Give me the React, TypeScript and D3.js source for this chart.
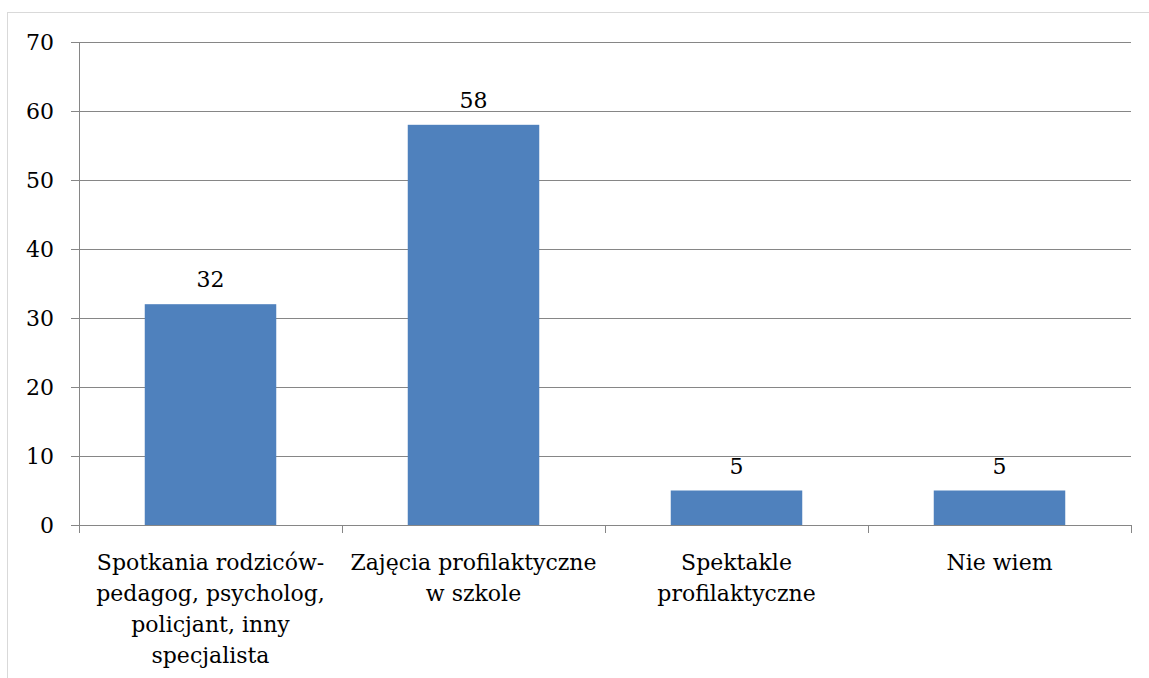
import React from "react";
import * as d3 from "d3";

const categoryLines: string[][] = [
  ["Spotkania rodziców-", "pedagog, psycholog,", "policjant, inny", "specjalista"],
  ["Zajęcia profilaktyczne", "w szkole"],
  ["Spektakle", "profilaktyczne"],
  ["Nie wiem"],
];
const categories: string[] = categoryLines.map((l) => l.join(" "));
const values: number[] = [32, 58, 5, 5];
const yTicks: number[] = [0, 10, 20, 30, 40, 50, 60, 70];

const W = 1149;
const H = 678;
const left = 79;
const right = 1131;
const top = 42;
const bottom = 525;
const FONT = "DejaVu Serif";
const FS = 22;
const AXIS = "#868686";
const BAR = "#4f81bd";

export default function App() {
  const x = d3.scaleBand<string>().domain(categories).range([left, right]).padding(0);
  const y = d3.scaleLinear().domain([0, 70]).range([bottom, top]);
  const bw = x.bandwidth() * 0.5;
  const boundaries = d3.range(categories.length + 1).map((i) => left + i * x.step());

  return (
    <svg
      width={W}
      height={H}
      style={{ position: "absolute", left: 0, top: 0, background: "#fff" }}
    >
      <rect x={7.5} y={12.5} width={W + 20} height={H + 20} fill="#fff" stroke="#d9d9d9" strokeWidth={1} />
      {yTicks.map((t) => (
        <g key={t}>
          <line x1={71} x2={right} y1={Math.round(y(t)) + 0.5} y2={Math.round(y(t)) + 0.5} stroke={AXIS} strokeWidth={1} />
          <text
            x={54}
            y={y(t)}
            dy="0.36em"
            textAnchor="end"
            fontFamily={FONT}
            fontSize={FS}
            fill="#000"
          >
            {t}
          </text>
        </g>
      ))}
      <line x1={left + 0.5} x2={left + 0.5} y1={top} y2={bottom + 8} stroke={AXIS} strokeWidth={1} />
      {boundaries.map((b, i) => (
        <line key={i} x1={Math.round(b) + 0.5} x2={Math.round(b) + 0.5} y1={bottom} y2={bottom + 8} stroke={AXIS} strokeWidth={1} />
      ))}
      {categories.map((c, i) => {
        const cx = (x(c) as number) + x.bandwidth() / 2;
        return (
          <g key={c}>
            <rect x={cx - bw / 2} y={y(values[i])} width={bw} height={y(0) - y(values[i])} fill={BAR} />
            <text
              x={cx}
              y={y(values[i]) - 17}
              textAnchor="middle"
              fontFamily={FONT}
              fontSize={FS}
              fill="#000"
            >
              {values[i]}
            </text>
            {categoryLines[i].map((ln, j) => (
              <text
                key={j}
                x={cx}
                y={570 + j * 31}
                textAnchor="middle"
                fontFamily={FONT}
                fontSize={FS}
                fill="#000"
              >
                {ln}
              </text>
            ))}
          </g>
        );
      })}
      <line x1={left} x2={right + 0.5} y1={bottom + 0.5} y2={bottom + 0.5} stroke={AXIS} strokeWidth={1} />
    </svg>
  );
}
